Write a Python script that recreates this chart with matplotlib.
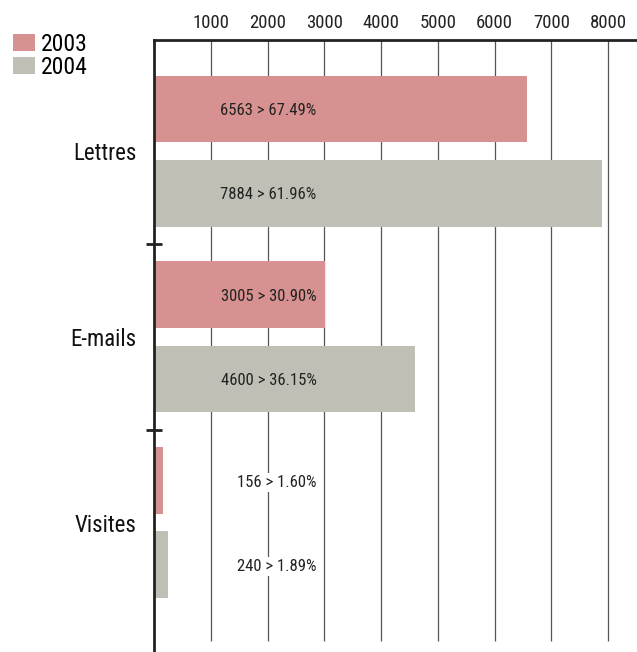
import matplotlib
matplotlib.use("Agg")
import matplotlib.pyplot as plt
from matplotlib.patches import Patch

plt.rcParams['font.family'] = ['Roboto Condensed', 'DejaVu Sans']

# courrier reçu par canal
categories = ["Lettres", "E-mails", "Visites"]
years = ["2003", "2004"]
values_2003 = [6563, 3005, 156]
values_2004 = [7884, 4600, 240]
pct_2003 = ["67.49%", "30.90%", "1.60%"]
pct_2004 = ["61.96%", "36.15%", "1.89%"]
xticks = [1000, 2000, 3000, 4000, 5000, 6000, 7000, 8000]

col_2003 = "#d69190"
col_2004 = "#bfbfb6"

fig = plt.figure(figsize=(6.37, 6.52), dpi=100)
ax = fig.add_axes([154 / 637, 0, 1 - 154 / 637, 612 / 652])

pos = list(range(len(categories)))
h = 0.36
off = 0.226
y03 = [p - off for p in pos]
y04 = [p + off for p in pos]
ax.barh(y03, values_2003, height=h, color=col_2003, zorder=2)
ax.barh(y04, values_2004, height=h, color=col_2004, zorder=2)

# vertical grid lines stopping just short of the bottom
ax.vlines(xticks, -0.6, 2.634, colors="#555555", linewidth=0.9, zorder=1)

label_x = 2860
for i in pos:
    bg = None
    if values_2003[i] < label_x:
        bg = dict(facecolor="white", edgecolor="none", pad=1.5)
    ax.text(label_x, y03[i], f"{values_2003[i]} > {pct_2003[i]}", ha="right",
            va="center_baseline", fontsize=12, color="#222222", zorder=3, bbox=bg)
    bg = None
    if values_2004[i] < label_x:
        bg = dict(facecolor="white", edgecolor="none", pad=1.5)
    ax.text(label_x, y04[i], f"{values_2004[i]} > {pct_2004[i]}", ha="right",
            va="center_baseline", fontsize=12, color="#222222", zorder=3, bbox=bg)

ax.set_xlim(0, 8506)
ax.set_ylim(2.694, -0.597)

ax.xaxis.tick_top()
ax.set_xticks(xticks)
ax.set_xticklabels([str(t) for t in xticks], fontsize=13.5, color="#222222")
ax.tick_params(axis="x", length=0, pad=6)

ax.set_yticks(pos)
ax.set_yticklabels(categories, fontsize=16.5, color="#111111")
ax.tick_params(axis="y", which="major", length=0, pad=12.5)
ax.set_yticks([0.5, 1.5], minor=True)
ax.tick_params(axis="y", which="minor", direction="inout", length=11,
               width=2, color="#222222")

for s in ["right", "bottom"]:
    ax.spines[s].set_visible(False)
ax.spines["left"].set_linewidth(2)
ax.spines["left"].set_color("#222222")
ax.spines["top"].set_linewidth(2)
ax.spines["top"].set_color("#222222")

handles = [Patch(facecolor=col_2003, edgecolor="none"),
           Patch(facecolor=col_2004, edgecolor="none")]
fig.legend(handles, years, loc="upper left", bbox_to_anchor=(13 / 637, 1 - 33 / 652),
           frameon=False, fontsize=17, handlelength=0.93, handleheight=0.72,
           handletextpad=0.26, labelspacing=0.0, borderaxespad=0, borderpad=0)

fig.savefig("out.png", dpi=100)
